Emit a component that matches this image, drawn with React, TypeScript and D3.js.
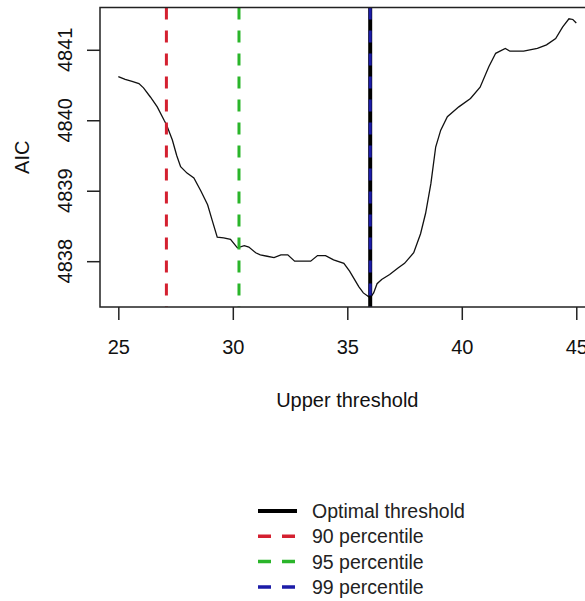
import { useEffect, useRef } from 'react';
import * as d3 from 'd3';

// AIC as a function of the upper threshold
const thresholds = [
  25.0, 25.3, 25.6, 25.9, 26.1, 26.4, 26.7, 27.0, 27.1, 27.36, 27.55, 27.72, 28.0, 28.3,
  28.6, 28.9, 29.1, 29.32, 29.6, 29.9, 30.2, 30.5, 30.7, 31.0, 31.2, 31.5, 31.8, 32.1,
  32.4, 32.7, 33.0, 33.4, 33.7, 34.05, 34.4, 34.85, 35.1, 35.3, 35.5, 35.7, 36.0, 36.15,
  36.3, 36.5, 36.85, 37.2, 37.5, 37.9, 38.2, 38.42, 38.65, 38.86, 39.08, 39.37, 39.87,
  40.38, 40.8, 41.18, 41.48, 41.9, 42.1, 42.7, 43.3, 43.7, 44.1, 44.4, 44.68, 44.85, 45.0,
];
const aic = [
  4840.62, 4840.58, 4840.55, 4840.52, 4840.46, 4840.33, 4840.19, 4840.0, 4839.94, 4839.72,
  4839.5, 4839.34, 4839.25, 4839.18, 4839.0, 4838.8, 4838.58, 4838.34, 4838.33, 4838.31,
  4838.19, 4838.22, 4838.2, 4838.12, 4838.09, 4838.07, 4838.05, 4838.09, 4838.09, 4838.0,
  4838.0, 4838.0, 4838.08, 4838.08, 4838.02, 4837.97, 4837.86, 4837.75, 4837.64, 4837.55,
  4837.48, 4837.55, 4837.68, 4837.74, 4837.81, 4837.9, 4837.97, 4838.12, 4838.39, 4838.68,
  4839.1, 4839.62, 4839.86, 4840.05, 4840.19, 4840.31, 4840.47, 4840.76, 4840.95, 4841.02,
  4840.98, 4840.98, 4841.02, 4841.07, 4841.16, 4841.32, 4841.44, 4841.43, 4841.38,
];

const xTicks = [25, 30, 35, 40, 45];
const yTicks = [4838, 4839, 4840, 4841];

// reference lines: optimal threshold and percentiles
const refLabels = ['Optimal threshold', '90 percentile', '95 percentile', '99 percentile'];
const refValues = [36.0, 27.1, 30.27, 36.0];
const refColors = ['#000000', '#d42030', '#2ab52a', '#1c1ca8'];
const refDashed = [false, true, true, true];

const FONT = '"Liberation Sans", Arial, sans-serif';

const App = () => {
  const svgRef = useRef<SVGSVGElement | null>(null);

  useEffect(() => {
    if (!svgRef.current) return;
    const svg = d3.select(svgRef.current);
    svg.selectAll('*').remove();

    const left = 100;
    const right = 594.6;
    const top = 7.5;
    const bottom = 307;

    const x = d3.scaleLinear().domain([24.2, 45.8]).range([left, right]);
    const y = d3.scaleLinear().domain([4837.35, 4841.6]).range([bottom, top]);

    // curve
    const points: [number, number][] = thresholds.map((t, i) => [t, aic[i]]);
    const line = d3.line<[number, number]>()
      .x((d) => x(d[0]))
      .y((d) => y(d[1]));
    svg.append('path')
      .datum(points)
      .attr('d', line)
      .attr('fill', 'none')
      .attr('stroke', '#111')
      .attr('stroke-width', 1.3);

    // vertical reference lines
    refValues.forEach((v, i) => {
      svg.append('line')
        .attr('x1', x(v))
        .attr('x2', x(v))
        .attr('y1', top)
        .attr('y2', bottom)
        .attr('stroke', refColors[i])
        .attr('stroke-width', i === 0 ? 4 : 3)
        .attr('stroke-dasharray', refDashed[i] ? '12,11' : null);
    });

    // box
    svg.append('rect')
      .attr('x', left)
      .attr('y', top)
      .attr('width', right - left)
      .attr('height', bottom - top)
      .attr('fill', 'none')
      .attr('stroke', '#222')
      .attr('stroke-width', 1.5);

    // x axis
    const xAxis = svg.append('g')
      .attr('transform', `translate(0,${bottom})`)
      .call(d3.axisBottom(x).tickValues(xTicks).tickSize(13).tickSizeOuter(0).tickPadding(20));
    xAxis.select('.domain').remove();
    xAxis.selectAll('line').attr('stroke', '#222').attr('stroke-width', 1.5);
    xAxis.selectAll('text')
      .attr('font-family', FONT)
      .attr('font-size', 20)
      .attr('fill', '#111');

    // y axis, labels rotated like R does
    const yAxis = svg.append('g')
      .attr('transform', `translate(${left},0)`)
      .call(d3.axisLeft(y).tickValues(yTicks).tickSize(13).tickSizeOuter(0).tickFormat(() => ''));
    yAxis.select('.domain').remove();
    yAxis.selectAll('line').attr('stroke', '#222').attr('stroke-width', 1.5);
    yTicks.forEach((t) => {
      svg.append('text')
        .attr('transform', `translate(65,${y(t)}) rotate(-90)`)
        .attr('text-anchor', 'middle')
        .attr('dominant-baseline', 'central')
        .attr('font-family', FONT)
        .attr('font-size', 20)
        .attr('fill', '#111')
        .text(String(t));
    });

    // axis titles
    svg.append('text')
      .attr('x', (left + right) / 2)
      .attr('y', 400)
      .attr('text-anchor', 'middle')
      .attr('dominant-baseline', 'central')
      .attr('font-family', FONT)
      .attr('font-size', 20)
      .attr('fill', '#111')
      .text('Upper threshold');
    svg.append('text')
      .attr('transform', `translate(22,${(top + bottom) / 2}) rotate(-90)`)
      .attr('text-anchor', 'middle')
      .attr('dominant-baseline', 'central')
      .attr('font-family', FONT)
      .attr('font-size', 20)
      .attr('fill', '#111')
      .text('AIC');

    // legend
    const legend = svg.append('g');
    refLabels.forEach((label, i) => {
      const ly = 511 + i * 25.3;
      legend.append('line')
        .attr('x1', 258)
        .attr('x2', 297)
        .attr('y1', ly)
        .attr('y2', ly)
        .attr('stroke', refColors[i])
        .attr('stroke-width', i === 0 ? 4 : 3.5)
        .attr('stroke-dasharray', refDashed[i] ? '13,11' : null);
      legend.append('text')
        .attr('x', 312)
        .attr('y', ly)
        .attr('dominant-baseline', 'central')
        .attr('font-family', FONT)
        .attr('font-size', 19.5)
        .attr('fill', '#222')
        .text(label);
    });
  }, []);

  return (
    <svg
      ref={svgRef}
      width={585}
      height={601}
      style={{ position: 'absolute', left: 0, top: 0, background: '#fff' }}
    />
  );
};

export default App;
